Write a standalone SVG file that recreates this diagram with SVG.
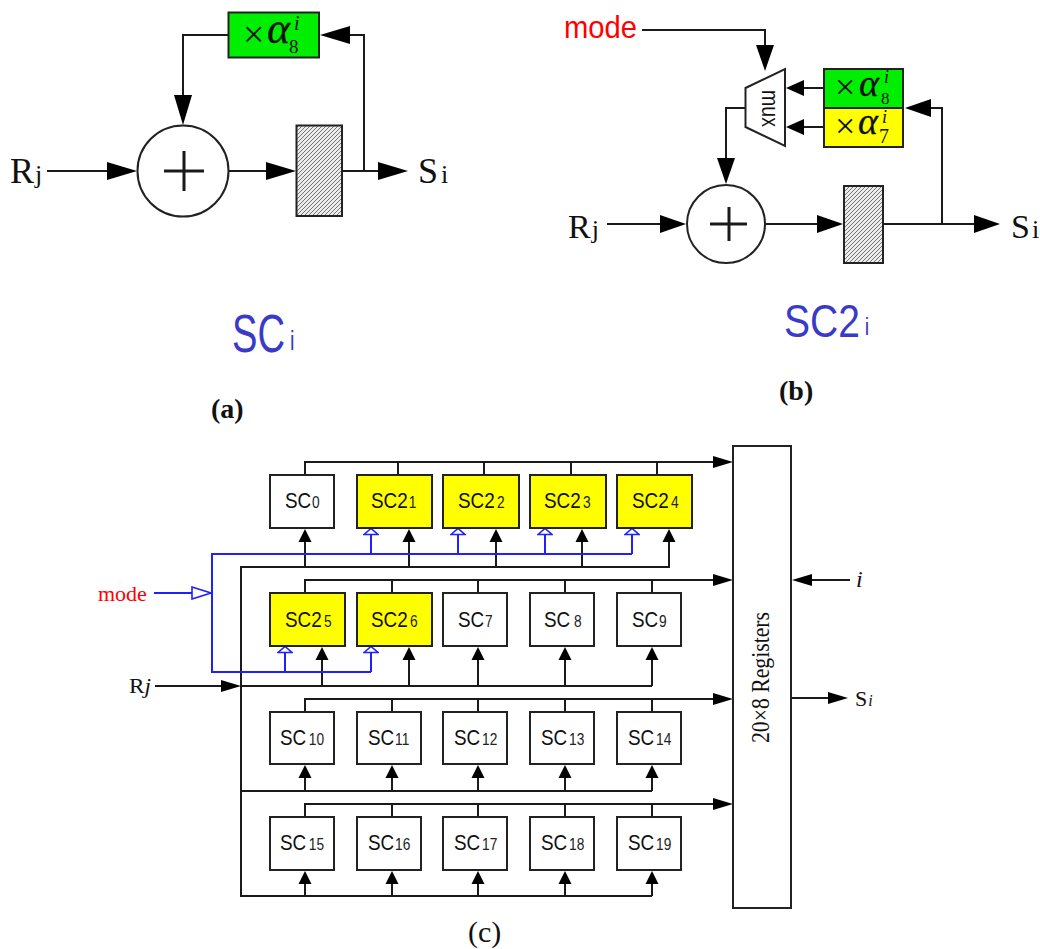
<svg xmlns="http://www.w3.org/2000/svg" width="1040" height="949" viewBox="0 0 1040 949">
<style>
.l{fill:none;stroke:#1a1a1a;stroke-width:2}
.b{fill:none;stroke:#1f1fff;stroke-width:2}
.box{fill:#fff;stroke:#222;stroke-width:2}
.y{fill:#ffff00;stroke:#222;stroke-width:2}
.g{fill:#00ee00;stroke:#222;stroke-width:2}
.h{fill:url(#hatch);stroke:#222;stroke-width:2}
.ser{font-family:"Liberation Serif",serif;fill:#111}
.it{font-style:italic}
.al{font-family:"Liberation Serif",serif;font-style:italic;fill:#111;stroke:#111;stroke-width:.3}
.sc{font-family:"Liberation Sans",sans-serif;font-size:22px;fill:#111}
.sc tspan{font-size:16px;fill:#222}
.blue{font-family:"Liberation Sans",sans-serif;fill:#3a3ac8}
</style>
<defs>
<pattern id="hatch" width="4" height="4" patternUnits="userSpaceOnUse">
<rect width="4" height="4" fill="#ececec"/>
<path d="M-1 1L1 -1M0 4L4 0M3 5L5 3" stroke="#555" stroke-width=".8"/>
</pattern>
<marker id="lg" markerUnits="userSpaceOnUse" markerWidth="30" markerHeight="20" refX="26" refY="10" orient="auto"><path d="M0 1L30 10L0 19Z" fill="#000"/></marker>
<marker id="md" markerUnits="userSpaceOnUse" markerWidth="26" markerHeight="20" refX="22" refY="10" orient="auto"><path d="M0 1L26 10L0 19Z" fill="#000"/></marker>
<marker id="mx" markerUnits="userSpaceOnUse" markerWidth="18" markerHeight="18" refX="14" refY="9" orient="auto"><path d="M0 1L18 9L0 17Z" fill="#000"/></marker>
<marker id="bs" markerUnits="userSpaceOnUse" markerWidth="20" markerHeight="14" refX="16" refY="7" orient="auto"><path d="M0 1L20 7L0 13Z" fill="#000"/></marker>
<marker id="up" markerUnits="userSpaceOnUse" markerWidth="13" markerHeight="14" refX="9" refY="7" orient="auto"><path d="M0 0.5L13 7L0 13.5Z" fill="#000"/></marker>
<marker id="ho" markerUnits="userSpaceOnUse" markerWidth="8" markerHeight="16" refX="0.5" refY="8" orient="auto"><path d="M1 1L7 8L1 15Z" fill="#fff" stroke="#1f1fff" stroke-width="1.6"/></marker>
<marker id="hol" markerUnits="userSpaceOnUse" markerWidth="22" markerHeight="14" refX="1" refY="7" orient="auto"><path d="M1 1L20 7L1 13Z" fill="#fff" stroke="#1f1fff" stroke-width="1.6"/></marker>
</defs>

<g id="connectors-a">
<path class="l" d="M47 171H133" marker-end="url(#lg)"/>
<path class="l" d="M229 171H292" marker-end="url(#lg)"/>
<path class="l" d="M342 171H404" marker-end="url(#lg)"/>
<path class="l" d="M364 171V35H324" marker-end="url(#lg)"/>
<path class="l" d="M228 35H183V121" marker-end="url(#lg)"/>
</g>
<g id="adder-a"><circle cx="183" cy="171" r="45.5" class="box"/><path class="l" d="M164 171H204M184 151V191" style="stroke-width:3"/></g>
<g id="reg-a"><rect x="296.500" y="125.500" width="45.500" height="90.500" class="h"/></g>
<g id="mul-a"><rect x="228.500" y="12.500" width="90.500" height="45" class="g"/>
<text class="ser" x="243" y="47" font-size="38">×</text><text class="al" x="267" y="43" font-size="44">α</text><text class="ser" x="289" y="53" font-size="19">8</text><text class="ser it" x="294" y="30" font-size="20">i</text></g>
<text class="ser" x="10" y="183" font-size="36">R<tspan font-size="26" dx="1">j</tspan></text>
<text class="ser" x="418" y="183" font-size="36">S<tspan font-size="26" dx="3">i</tspan></text>
<text class="blue" transform="translate(232,352) scale(.72,1)" font-size="53">SC<tspan font-size="28" dx="7" dy="-2">i</tspan></text>
<text class="ser" x="211" y="418" font-size="28" font-weight="bold">(a)</text>

<g id="connectors-b">
<path class="l" d="M642 30H765V67" marker-end="url(#md)"/>
<path class="l" d="M824 88H790" marker-end="url(#mx)"/>
<path class="l" d="M824 127H790" marker-end="url(#mx)"/>
<path class="l" d="M745 108H726V180" marker-end="url(#md)"/>
<path class="l" d="M607 224H682" marker-end="url(#md)"/>
<path class="l" d="M765 224H839" marker-end="url(#md)"/>
<path class="l" d="M883 224H996" marker-end="url(#md)"/>
<path class="l" d="M942 224V108H909" marker-end="url(#md)"/>
</g>
<g id="mux"><path d="M745.500 88L785 69V146L745.500 127Z" class="box"/>
<text transform="translate(762,108.500) rotate(90)" text-anchor="middle" font-family="Liberation Sans,sans-serif" font-size="24" fill="#111" textLength="37" lengthAdjust="spacingAndGlyphs">mux</text></g>
<g id="adder-b"><circle cx="726" cy="224" r="39" class="box"/><path class="l" d="M710 224H747M729 207V241" style="stroke-width:3"/></g>
<g id="reg-b"><rect x="844" y="186" width="39" height="77" class="h"/></g>
<g id="mul8-b"><rect x="824" y="69" width="79" height="39" class="g"/>
<text class="ser" x="835" y="99" font-size="36">×</text><text class="al" x="859" y="96" font-size="38">α</text><text class="ser" x="881" y="104" font-size="17">8</text><text class="ser it" x="884" y="83" font-size="18">i</text></g>
<g id="mul7-b"><rect x="824" y="108" width="79" height="39" class="y"/>
<text class="ser" x="835" y="138" font-size="36">×</text><text class="al" x="858" y="134" font-size="38">α</text><text class="ser" x="879" y="143" font-size="20">7</text><text class="ser it" x="882" y="123" font-size="18">i</text></g>
<text x="564" y="38" font-family="Liberation Sans,sans-serif" font-size="32" fill="#ff0000" textLength="73" lengthAdjust="spacingAndGlyphs">mode</text>
<text class="ser" x="568" y="238" font-size="34">R<tspan font-size="26" dx="1">j</tspan></text>
<text class="ser" x="1011" y="238" font-size="34">S<tspan font-size="26" dx="2">i</tspan></text>
<text class="blue" transform="translate(784,337) scale(.83,1)" font-size="47">SC2<tspan font-size="24" dx="6" dy="-2">i</tspan></text>
<text class="ser" x="779" y="400" font-size="28" font-weight="bold">(b)</text>

<g id="connectors-c">
<path class="l" d="M305 475V462H729" marker-end="url(#bs)"/>
<path class="l" d="M398 462V475M484 462V475M571 462V475M657 462V475"/>
<path class="l" d="M305 593V580H729" marker-end="url(#bs)"/>
<path class="l" d="M392 580V593M478 580V593M565 580V593M652 580V593"/>
<path class="l" d="M305 712V699H729" marker-end="url(#bs)"/>
<path class="l" d="M392 699V712M478 699V712M565 699V712M652 699V712"/>
<path class="l" d="M305 817V804H729" marker-end="url(#bs)"/>
<path class="l" d="M392 804V817M478 804V817M565 804V817M652 804V817"/>
<path class="l" d="M155 686H237" marker-end="url(#bs)"/>
<path class="l" d="M241 686H652M670 567H241V896H652M241 791H652"/>
<path class="l" d="M305 567V533" marker-end="url(#up)"/><path class="l" d="M409 567V533" marker-end="url(#up)"/><path class="l" d="M496 567V533" marker-end="url(#up)"/><path class="l" d="M582 567V533" marker-end="url(#up)"/><path class="l" d="M669 567V533" marker-end="url(#up)"/>
<path class="l" d="M322 686V651" marker-end="url(#up)"/><path class="l" d="M409 686V651" marker-end="url(#up)"/><path class="l" d="M478 686V651" marker-end="url(#up)"/><path class="l" d="M565 686V651" marker-end="url(#up)"/><path class="l" d="M652 686V651" marker-end="url(#up)"/>
<path class="l" d="M305 791V769" marker-end="url(#up)"/><path class="l" d="M392 791V769" marker-end="url(#up)"/><path class="l" d="M478 791V769" marker-end="url(#up)"/><path class="l" d="M565 791V769" marker-end="url(#up)"/><path class="l" d="M652 791V769" marker-end="url(#up)"/>
<path class="l" d="M305 896V875" marker-end="url(#up)"/><path class="l" d="M392 896V875" marker-end="url(#up)"/><path class="l" d="M478 896V875" marker-end="url(#up)"/><path class="l" d="M565 896V875" marker-end="url(#up)"/><path class="l" d="M652 896V875" marker-end="url(#up)"/>
<path class="l" d="M850 580H796" marker-end="url(#bs)"/>
<path class="l" d="M791 698H844" marker-end="url(#bs)"/>
<path class="b" d="M154 593H192" marker-end="url(#hol)"/>
<path class="b" d="M632 554H212V672H371"/>
<path class="b" d="M371 554V535" marker-end="url(#ho)"/><path class="b" d="M458 554V535" marker-end="url(#ho)"/><path class="b" d="M545 554V535" marker-end="url(#ho)"/><path class="b" d="M632 554V535" marker-end="url(#ho)"/>
<path class="b" d="M285 672V653" marker-end="url(#ho)"/><path class="b" d="M371 672V653" marker-end="url(#ho)"/>
</g>

<g id="sc0"><rect x="270" y="475" width="64" height="53" class="box"/><text class="sc" transform="translate(285,508) scale(.86,1)">SC<tspan dx="1">0</tspan></text></g>
<g id="sc1"><rect x="357" y="475" width="75" height="53" class="y"/><text class="sc" transform="translate(371,508) scale(.86,1)">SC2<tspan dx="1">1</tspan></text></g>
<g id="sc2"><rect x="443" y="475" width="76" height="53" class="y"/><text class="sc" transform="translate(458,508) scale(.86,1)">SC2<tspan dx="2.500">2</tspan></text></g>
<g id="sc3"><rect x="530" y="475" width="76" height="53" class="y"/><text class="sc" transform="translate(544,508) scale(.86,1)">SC2<tspan dx="2.500">3</tspan></text></g>
<g id="sc4"><rect x="617" y="475" width="75" height="53" class="y"/><text class="sc" transform="translate(632,508) scale(.86,1)">SC2<tspan dx="2.500">4</tspan></text></g>
<g id="sc5"><rect x="270" y="593" width="75" height="53" class="y"/><text class="sc" transform="translate(285,627) scale(.86,1)">SC2<tspan dx="2.500">5</tspan></text></g>
<g id="sc6"><rect x="357" y="593" width="75" height="53" class="y"/><text class="sc" transform="translate(371,627) scale(.86,1)">SC2<tspan dx="2.500">6</tspan></text></g>
<g id="sc7"><rect x="443" y="593" width="64" height="53" class="box"/><text class="sc" transform="translate(458,627) scale(.86,1)">SC<tspan dx="1">7</tspan></text></g>
<g id="sc8"><rect x="530" y="593" width="64" height="53" class="box"/><text class="sc" transform="translate(544,627) scale(.86,1)">SC<tspan dx="4.300">8</tspan></text></g>
<g id="sc9"><rect x="617" y="593" width="64" height="53" class="box"/><text class="sc" transform="translate(632,627) scale(.86,1)">SC<tspan dx="1">9</tspan></text></g>
<g id="sc10"><rect x="270" y="712" width="64" height="52" class="box"/><text class="sc" transform="translate(280,745) scale(.86,1)">SC<tspan dx="3">10</tspan></text></g>
<g id="sc11"><rect x="357" y="712" width="64" height="52" class="box"/><text class="sc" transform="translate(368,745) scale(.86,1)">SC<tspan dx="1">11</tspan></text></g>
<g id="sc12"><rect x="443" y="712" width="64" height="52" class="box"/><text class="sc" transform="translate(454,745) scale(.86,1)">SC<tspan dx="2">12</tspan></text></g>
<g id="sc13"><rect x="530" y="712" width="64" height="52" class="box"/><text class="sc" transform="translate(541,745) scale(.86,1)">SC<tspan dx="2">13</tspan></text></g>
<g id="sc14"><rect x="617" y="712" width="64" height="52" class="box"/><text class="sc" transform="translate(628,745) scale(.86,1)">SC<tspan dx="2">14</tspan></text></g>
<g id="sc15"><rect x="270" y="817" width="64" height="53" class="box"/><text class="sc" transform="translate(280,850) scale(.86,1)">SC<tspan dx="3">15</tspan></text></g>
<g id="sc16"><rect x="357" y="817" width="64" height="53" class="box"/><text class="sc" transform="translate(368,850) scale(.86,1)">SC<tspan dx="1">16</tspan></text></g>
<g id="sc17"><rect x="443" y="817" width="64" height="53" class="box"/><text class="sc" transform="translate(454,850) scale(.86,1)">SC<tspan dx="2">17</tspan></text></g>
<g id="sc18"><rect x="530" y="817" width="64" height="53" class="box"/><text class="sc" transform="translate(541,850) scale(.86,1)">SC<tspan dx="2">18</tspan></text></g>
<g id="sc19"><rect x="617" y="817" width="64" height="53" class="box"/><text class="sc" transform="translate(628,850) scale(.86,1)">SC<tspan dx="2">19</tspan></text></g>
<g id="registers"><rect x="733" y="446" width="58" height="462" class="box"/><text class="ser" transform="translate(769,677.500) rotate(-90)" text-anchor="middle" font-size="26" textLength="131" lengthAdjust="spacingAndGlyphs">20×8 Registers</text></g>
<text class="ser" x="98" y="601" font-size="22" style="fill:#ff0000">mode</text>
<text class="ser" x="129" y="693" font-size="22" textLength="22" lengthAdjust="spacingAndGlyphs">R<tspan class="it">j</tspan></text>
<text class="ser it" x="856" y="587" font-size="24">i</text>
<text class="ser" x="855" y="706" font-size="22">S<tspan class="it" font-size="16" dx="1">i</tspan></text>
<text class="ser" x="468" y="942" font-size="30">(c)</text>
</svg>
